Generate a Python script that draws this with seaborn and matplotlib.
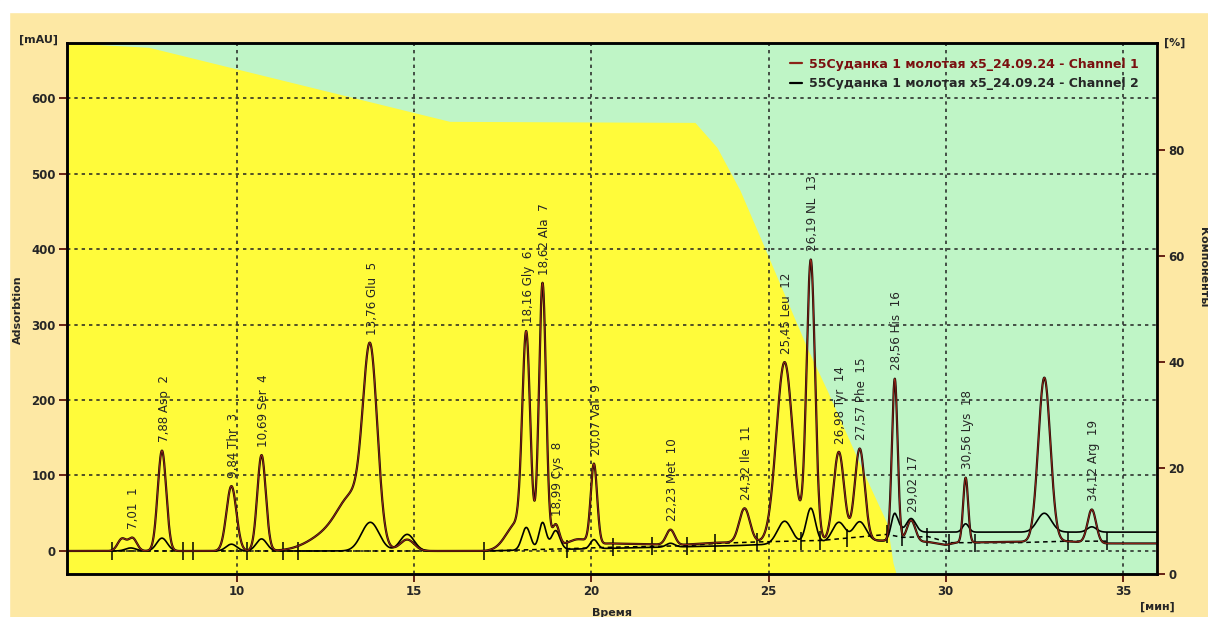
import numpy as np
import pandas as pd
import seaborn as sns
import matplotlib.pyplot as plt
from matplotlib.patches import Rectangle
from matplotlib.lines import Line2D

# ---- peaks: time (min), height (mAU), sigma (min)
ch1_time = [6.75, 7.05, 7.88, 9.84, 10.69, 12.7, 13.3, 13.76, 14.8, 17.9, 18.16, 18.62,
            18.99, 19.6, 20.07, 22.23, 24.32, 25.45, 26.19, 26.98, 27.57, 28.56, 29.02,
            30.56, 32.78, 34.12]
ch1_height = [16, 17, 133, 86, 127, 25, 58, 240, 15, 35, 265, 350,
              30, 10, 105, 20, 45, 238, 372, 118, 122, 215, 28,
              86, 217, 44]
ch1_sigma = [0.12, 0.12, 0.12, 0.14, 0.12, 0.6, 0.4, 0.2, 0.2, 0.3, 0.11, 0.10,
             0.10, 0.3, 0.09, 0.12, 0.15, 0.23, 0.12, 0.15, 0.14, 0.08, 0.12,
             0.07, 0.17, 0.12]
ch1_base_t = [5.2, 17.0, 19.5, 20.5, 22.5, 23.5, 28.0, 29.5, 30.0, 30.3, 33.3, 34.5, 36.0]
ch1_base_v = [0, 0, 5, 10, 8, 11, 14, 12, 8, 11, 13, 10, 10]

ch2_time = [7.0, 7.88, 9.84, 10.69, 13.76, 14.8, 18.16, 18.62, 18.99, 20.07, 22.23,
            25.45, 26.19, 26.98, 27.57, 28.56, 29.02, 30.56, 32.78, 34.12]
ch2_height = [4, 17, 9, 16, 38, 22, 30, 36, 25, 12, 5,
              30, 46, 26, 26, 36, 18, 11, 25, 7]
ch2_sigma = [0.15, 0.15, 0.15, 0.15, 0.25, 0.2, 0.12, 0.10, 0.12, 0.1, 0.12,
             0.2, 0.13, 0.18, 0.18, 0.1, 0.13, 0.09, 0.2, 0.13]
ch2_base_t = [5.2, 17.0, 20.0, 24.0, 27.0, 28.6, 28.75, 36.0]
ch2_base_v = [0, 0, 3, 7, 12, 14, 25, 25]

# gradient profile (% of right axis)
grad_t = [5.2, 7.5, 16.0, 22.92, 23.54, 24.19, 24.76, 26.08, 26.65, 27.78, 28.34, 28.51, 28.6, 36.0]
grad_pct = [100.3, 99.5, 85.5, 85.3, 80.6, 72.5, 63.6, 42.8, 34.7, 17.7, 9.6, 2.1, 0, 0]

# integration baseline and peak-limit marks
int_t = [6.47, 16.97, 19.3, 20.6, 22.7, 23.5, 24.7, 26.5, 28.35, 28.77, 29.5, 30.1, 32.0, 33.45, 34.55]
int_v = [0, 0, 3, 5, 7, 10, 12, 14, 22, 18, 19, 11, 11, 13, 13]
limit_t = [6.47, 8.48, 8.76, 10.28, 11.3, 11.72, 16.97, 19.3, 20.6, 21.7, 22.7, 23.5,
           24.68, 25.9, 26.45, 27.2, 28.35, 28.77, 29.47, 30.1, 30.83, 33.45, 34.55]

label_t = [7.01, 7.88, 9.84, 10.69, 13.76, 18.16, 18.62, 18.99, 20.07, 22.23, 24.32,
           25.45, 26.19, 26.98, 27.57, 28.56, 29.02, 30.56, 34.12]
label_txt = ["7,01  1", "7,88 Asp  2", "9,84 Thr  3", "10,69 Ser  4", "13,76 Glu  5",
             "18,16 Gly  6", "18,62 Ala  7", "18,99 Cys  8", "20,07 Val  9",
             "22,23 Met  10", "24,32 Ile  11", "25,45 Leu  12", "26,19 NL  13",
             "26,98 Tyr  14", "27,57 Phe  15", "28,56 His  16", "29,02  17",
             "30,56 Lys  18", "34,12 Arg  19"]

t = np.linspace(5.2, 35.96, 6000)


def trace(times, heights, sigmas, bt, bv):
    y = np.interp(t, bt, bv)
    for c, h, s in zip(times, heights, sigmas):
        y = y + h * np.exp(-0.5 * ((t - c) / s) ** 2)
    return y


df = pd.DataFrame({"time": t,
                   "ch1": trace(ch1_time, ch1_height, ch1_sigma, ch1_base_t, ch1_base_v),
                   "ch2": trace(ch2_time, ch2_height, ch2_sigma, ch2_base_t, ch2_base_v)})

sns.set_style("ticks")
plt.rcParams["font.family"] = ["DejaVu Sans"]

fig = plt.figure(figsize=(12.08, 6.17), dpi=100, facecolor="#fde8a4")
ax = fig.add_axes([67 / 1208, 1 - 574 / 617, 1090 / 1208, 531 / 617])
ax2 = ax.twinx()

yellow = "#fffb3a"
green = "#bff5c6"
ax2.patch.set_visible(True)
ax2.set_facecolor(green)
ax2.fill_between(grad_t, 0, grad_pct, color=yellow, lw=0)
ax2.set_ylim(0, 100.3)
ax2.set_yticks([0, 20, 40, 60, 80])
ax.set_zorder(ax2.get_zorder() + 1)
ax.patch.set_visible(False)

ax.set_xlim(5.2, 35.96)
ax.set_ylim(-30.5, 673)
ax.set_xticks([10, 15, 20, 25, 30, 35])
ax.set_yticks([0, 100, 200, 300, 400, 500, 600])
ax.grid(True, color="#222222", linestyle=(0, (2.2, 2.6)), linewidth=1.1)

# integration baseline and limit marks
ax.plot(int_t, int_v, color="black", linestyle=(0, (3, 2.5)), linewidth=1.1)
lim_base = np.interp(limit_t, int_t, int_v)
ax.vlines(limit_t, lim_base - 12, lim_base + 12, color="black", linewidth=1.1)

sns.lineplot(data=df, x="time", y="ch2", ax=ax, color="black", linewidth=1.2,
             estimator=None, sort=False)
sns.lineplot(data=df, x="time", y="ch1", ax=ax, color="#1a0a08", linewidth=1.6,
             estimator=None, sort=False)
sns.lineplot(data=df, x="time", y="ch1", ax=ax, color="#a02818", linewidth=0.6,
             estimator=None, sort=False)

ch1_at = np.interp(label_t, df["time"], df["ch1"])
for lt, txt, ly in zip(label_t, label_txt, ch1_at):
    ax.annotate(txt, (lt, ly), xytext=(1.5, 6), textcoords="offset points",
                rotation=90, ha="center", va="bottom", fontsize=8.6)

handles = [Line2D([], [], color="#8b2418", lw=1.6), Line2D([], [], color="black", lw=1.6)]
leg = ax.legend(handles, ["55Суданка 1 молотая x5_24.09.24 - Channel 1",
                          "55Суданка 1 молотая x5_24.09.24 - Channel 2"],
                loc="upper right", bbox_to_anchor=(0.988, 0.982), borderaxespad=0,
                frameon=False, handlelength=0.9, handletextpad=0.6, labelspacing=0.55,
                prop={"size": 9, "weight": "bold"})
leg.get_texts()[0].set_color("#7a1010")

for a in (ax, ax2):
    for s in a.spines.values():
        s.set_linewidth(1.8)
        s.set_color("black")
ax2.spines["right"].set_color("#4a1008")
ax.tick_params(axis="both", length=6, width=1.3, color="#5a1208", labelsize=8.5, pad=2)
ax2.tick_params(axis="y", length=6, width=1.3, color="#5a1208", labelsize=8.5, pad=2)
for lab in ax.get_xticklabels() + ax.get_yticklabels() + ax2.get_yticklabels():
    lab.set_fontweight("bold")
ax.set_xlabel("")
ax.set_ylabel("")

fig.text(38 / 1208, 1 - 40 / 617, "[mAU]", ha="center", va="center", fontsize=8, weight="bold")
fig.text(1175 / 1208, 1 - 43 / 617, "[%]", ha="center", va="center", fontsize=8, weight="bold")
fig.text(1157 / 1208, 1 - 607 / 617, "[мин]", ha="center", va="center", fontsize=8, weight="bold")
fig.text(612 / 1208, 1 - 613 / 617, "Время", ha="center", va="center", fontsize=8, weight="bold")
fig.text(18 / 1208, 1 - 310 / 617, "Adsorbtion", rotation=90, ha="center", va="center",
         fontsize=8, weight="bold")
fig.text(1203 / 1208, 1 - 267 / 617, "Компоненты", rotation=270, ha="center", va="center",
         fontsize=8, weight="bold")

fig.add_artist(Rectangle((0, 1 - 12 / 617), 1, 12 / 617, transform=fig.transFigure,
                         color="white", zorder=-5))
fig.add_artist(Rectangle((0, 0), 9 / 1208, 1, transform=fig.transFigure,
                         color="white", zorder=-5))

fig.savefig("out.png", dpi=100, facecolor=fig.get_facecolor())
